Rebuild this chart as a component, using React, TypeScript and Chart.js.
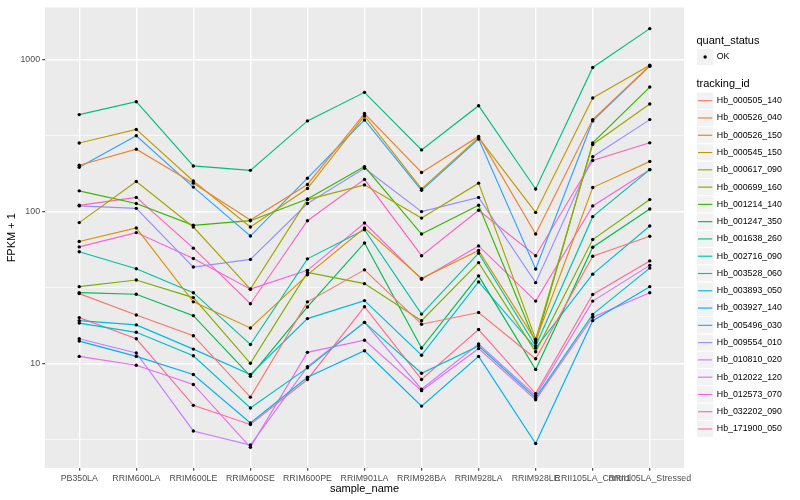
import React, { useEffect, useRef } from "react";
import { Chart, registerables } from "chart.js";

Chart.register(...registerables);

const sampleNames = [
  "PB350LA",
  "RRIM600LA",
  "RRIM600LE",
  "RRIM600SE",
  "RRIM600PE",
  "RRIM901LA",
  "RRIM928BA",
  "RRIM928LA",
  "RRIM928LE",
  "RRII105LA_Control",
  "RRII105LA_Stressed",
];

const trackingIds = [
  "Hb_000505_140",
  "Hb_000526_040",
  "Hb_000526_150",
  "Hb_000545_150",
  "Hb_000617_090",
  "Hb_000699_160",
  "Hb_001214_140",
  "Hb_001247_350",
  "Hb_001638_260",
  "Hb_002716_090",
  "Hb_003528_060",
  "Hb_003893_050",
  "Hb_003927_140",
  "Hb_005496_030",
  "Hb_009554_010",
  "Hb_010810_020",
  "Hb_012022_120",
  "Hb_012573_070",
  "Hb_032202_090",
  "Hb_171900_050",
];

const seriesColors = [
  "#F8766D", "#EA8331", "#D89000", "#C09B00", "#A3A500",
  "#7CAE00", "#39B600", "#00BB4E", "#00BF7D", "#00C1A3",
  "#00BFC4", "#00BAE0", "#00B0F6", "#35A2FF", "#9590FF",
  "#C77CFF", "#E76BF3", "#FA62DB", "#FF62BC", "#FF6C91",
];

const Hb_000505_140 = [28.8, 20.8, 15.2, 5.98, 25.4, 41.3, 18.1, 21.6, 10.7, 50.8, 68.8];
const Hb_000526_040 = [202, 258, 154, 87.9, 151, 443, 181, 313, 71.2, 404, 915];
const Hb_000526_150 = [63.5, 78, 25.4, 17.1, 38.3, 78, 36.3, 55.5, 14.1, 144, 214];
const Hb_000545_150 = [283, 348, 159, 79.1, 142, 427, 141, 307, 98.8, 561, 923];
const Hb_000617_090 = [84.6, 158, 79.1, 30.8, 120, 150, 90.6, 154, 14.4, 277, 512];
const Hb_000699_160 = [32.0, 35.4, 27.1, 10.0, 39.7, 33.5, 19.1, 46.1, 11.9, 65.4, 120];
const Hb_001214_140 = [137, 113, 81.2, 87.1, 121, 198, 71.1, 110, 13.6, 284, 662];
const Hb_001247_350 = [29.2, 28.5, 20.6, 8.22, 23.5, 62.1, 12.6, 37.7, 9.09, 58.2, 104];
const Hb_001638_260 = [436, 530, 200, 187, 396, 611, 255, 499, 141, 891, 1607];
const Hb_002716_090 = [54.3, 42.0, 29.2, 13.3, 48.8, 75.9, 21.1, 53.2, 13.0, 92.6, 189];
const Hb_003528_060 = [18.4, 16.0, 11.2, 5.07, 9.33, 18.6, 8.6, 13.0, 5.91, 21.0, 42.4];
const Hb_003893_050 = [19.1, 17.9, 12.4, 8.43, 19.7, 25.9, 11.3, 34.4, 12.6, 38.7, 80.3];
const Hb_003927_140 = [14.0, 11.1, 8.43, 4.04, 8.09, 12.1, 5.22, 11.1, 2.96, 19.1, 32.0];
const Hb_005496_030 = [196, 316, 145, 69.0, 166, 402, 138, 301, 41.8, 396, 909];
const Hb_009554_010 = [109, 105, 43.1, 48.4, 113, 193, 100, 124, 34.0, 230, 404];
const Hb_010810_020 = [14.5, 11.7, 3.58, 2.89, 9.51, 18.6, 6.75, 13.4, 6.11, 25.7, 44.2];
const Hb_012022_120 = [11.1, 9.7, 7.25, 2.79, 11.8, 14.2, 6.6, 12.5, 5.74, 20.1, 29.2];
const Hb_012573_070 = [58.5, 72.7, 49.1, 30.8, 41.0, 84.1, 35.8, 59.4, 25.7, 109, 189];
const Hb_032202_090 = [110, 124, 57.4, 24.7, 87.1, 163, 51.2, 102, 51.2, 217, 284];
const Hb_171900_050 = [20.0, 14.5, 5.28, 3.95, 7.82, 23.6, 7.82, 16.7, 6.31, 28.4, 47.3];

const seriesValues = [
  Hb_000505_140, Hb_000526_040, Hb_000526_150, Hb_000545_150, Hb_000617_090,
  Hb_000699_160, Hb_001214_140, Hb_001247_350, Hb_001638_260, Hb_002716_090,
  Hb_003528_060, Hb_003893_050, Hb_003927_140, Hb_005496_030, Hb_009554_010,
  Hb_010810_020, Hb_012022_120, Hb_012573_070, Hb_032202_090, Hb_171900_050,
];

const yMajorTicks = [10, 100, 1000];
const yMinorTicks = [3.1623, 31.623, 316.23];
const quantStatus = ["OK"];

const FONT = '"Liberation Sans", Arial, Helvetica, sans-serif';

export default function App() {
  const ref = useRef<HTMLCanvasElement>(null);

  useEffect(() => {
    const canvas = ref.current;
    if (!canvas) return;
    Chart.defaults.font.family = FONT;

    const isMajor = (v: number) => yMajorTicks.some((m) => Math.abs(v - m) / m < 1e-6);

    const lineSets = seriesValues.map((vals, k) => ({
      label: trackingIds[k],
      data: vals.map((y, i) => ({ x: i, y })),
      borderColor: seriesColors[k],
      backgroundColor: seriesColors[k],
      borderWidth: 1.15,
      pointRadius: 0,
      tension: 0,
      fill: false,
      order: 2,
    }));
    const pointSets = seriesValues.map((vals, k) => ({
      label: trackingIds[k] + " " + quantStatus[0],
      data: vals.map((y, i) => ({ x: i, y })),
      showLine: false,
      borderColor: "#000000",
      backgroundColor: "#000000",
      pointBackgroundColor: "#000000",
      pointBorderWidth: 0,
      pointRadius: 1.7,
      order: 1,
    }));

    const panelPlugin = {
      id: "panelBg",
      beforeDraw(chart: any) {
        const { ctx, chartArea } = chart;
        ctx.save();
        ctx.fillStyle = "#FFFFFF";
        ctx.fillRect(0, 0, chart.width, chart.height);
        ctx.fillStyle = "#EBEBEB";
        ctx.fillRect(chartArea.left, chartArea.top, chartArea.right - chartArea.left, chartArea.bottom - chartArea.top);
        ctx.restore();
      },
    };

    const legendPlugin = {
      id: "ggLegend",
      afterDraw(chart: any) {
        const ctx = chart.ctx as CanvasRenderingContext2D;
        ctx.save();
        const x0 = 696.5;
        const key = 17.28;
        ctx.textAlign = "left";
        ctx.textBaseline = "middle";
        ctx.fillStyle = "#000000";
        ctx.font = `11px ${FONT}`;
        ctx.fillText("quant_status", x0, 40.7);
        const drawBox = (cy: number) => {
          ctx.fillStyle = "#F2F2F2";
          ctx.fillRect(x0, cy - key / 2, key, key);
          ctx.strokeStyle = "#FFFFFF";
          ctx.lineWidth = 1;
          ctx.strokeRect(x0, cy - key / 2, key, key);
        };
        // OK key
        const okY = 57;
        drawBox(okY);
        ctx.fillStyle = "#000000";
        ctx.beginPath();
        ctx.arc(x0 + key / 2, okY, 1.7, 0, Math.PI * 2);
        ctx.fill();
        ctx.font = `8.8px ${FONT}`;
        ctx.fillText(quantStatus[0], x0 + key + 3, okY);

        ctx.font = `11px ${FONT}`;
        ctx.fillText("tracking_id", x0, 84.3);
        trackingIds.forEach((id, k) => {
          const cy = 100.7 + k * key;
          drawBox(cy);
          ctx.strokeStyle = seriesColors[k];
          ctx.lineWidth = 1.15;
          ctx.beginPath();
          ctx.moveTo(x0 + 1.5, cy);
          ctx.lineTo(x0 + key - 1.5, cy);
          ctx.stroke();
          ctx.fillStyle = "#000000";
          ctx.font = `8.8px ${FONT}`;
          ctx.fillText(id, x0 + key + 3, cy);
        });
        ctx.restore();
      },
    };

    const chart = new Chart(canvas, {
      type: "line",
      data: { datasets: [...lineSets, ...pointSets] as any },
      options: {
        animation: false,
        responsive: true,
        maintainAspectRatio: false,
        events: [],
        layout: { padding: { left: 0, right: 116, top: 5, bottom: 0 } },
        plugins: {
          legend: { display: false },
          tooltip: { enabled: false },
        },
        scales: {
          x: {
            type: "linear",
            min: -0.6,
            max: sampleNames.length - 1 + 0.6,
            afterBuildTicks: (scale: any) => {
              scale.ticks = sampleNames.map((_, i) => ({ value: i }));
            },
            afterFit: (scale: any) => {
              scale.height = 32;
            },
            ticks: {
              autoSkip: false,
              maxRotation: 0,
              minRotation: 0,
              padding: 2.2,
              color: "#4D4D4D",
              font: { size: 8.8, family: FONT },
              callback: (v: any) => sampleNames[Math.round(Number(v))] ?? "",
            },
            grid: {
              color: "#FFFFFF",
              lineWidth: 1.4,
              drawTicks: true,
              tickLength: 2.75,
              tickColor: "#333333",
              tickWidth: 1.07,
            },
            border: { display: false },
            title: {
              display: true,
              text: "sample_name",
              color: "#000000",
              font: { size: 11, family: FONT },
              padding: { top: 0, bottom: 4.4 },
            },
          },
          y: {
            type: "logarithmic",
            min: 2.04,
            max: 2216,
            afterBuildTicks: (scale: any) => {
              scale.ticks = [...yMinorTicks, ...yMajorTicks]
                .sort((a, b) => a - b)
                .map((v) => ({ value: v }));
            },
            afterFit: (scale: any) => {
              scale.width = 45;
            },
            ticks: {
              autoSkip: false,
              padding: 2.2,
              color: "#4D4D4D",
              font: { size: 8.8, family: FONT },
              callback: (v: any) => (isMajor(Number(v)) ? String(Math.round(Number(v))) : ""),
            },
            grid: {
              color: "#FFFFFF",
              lineWidth: (ctx: any) => (ctx.tick && isMajor(ctx.tick.value) ? 1.4 : 0.7),
              drawTicks: true,
              tickLength: 2.75,
              tickColor: (ctx: any) => (ctx.tick && isMajor(ctx.tick.value) ? "#333333" : "rgba(0,0,0,0)"),
              tickWidth: 1.07,
            },
            border: { display: false },
            title: {
              display: true,
              text: "FPKM + 1",
              color: "#000000",
              font: { size: 11, family: FONT },
              padding: { top: 5.4, bottom: 0 },
            },
          },
        },
      },
      plugins: [panelPlugin, legendPlugin],
    } as any);

    return () => chart.destroy();
  }, []);

  return (
    <div style={{ position: "fixed", left: 0, top: 0, width: 800, height: 500, background: "#FFFFFF" }}>
      <canvas ref={ref} />
    </div>
  );
}
